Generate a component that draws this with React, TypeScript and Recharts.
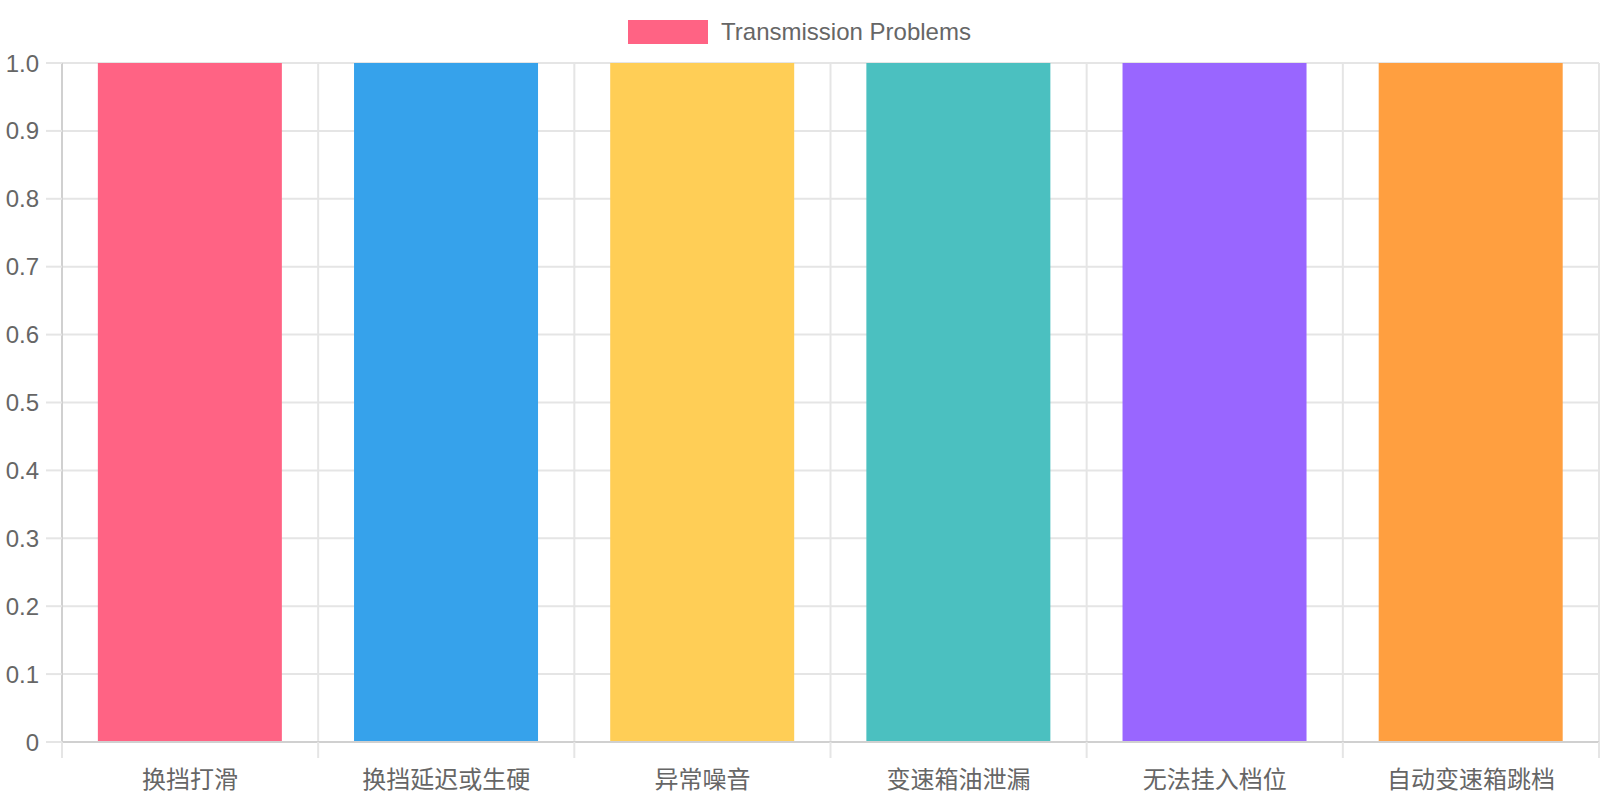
import { Bar, BarChart, CartesianGrid, Cell, Legend, XAxis, YAxis } from "recharts";

const categories = ["换挡打滑", "换挡延迟或生硬", "异常噪音", "变速箱油泄漏", "无法挂入档位", "自动变速箱跳档"];
const problemCounts = [1, 1, 1, 1, 1, 1];
const barColors = ["#FF6384", "#36A2EB", "#FFCE56", "#4BC0C0", "#9966FF", "#FF9F40"];
const yTicks = [0, 0.1, 0.2, 0.3, 0.4, 0.5, 0.6, 0.7, 0.8, 0.9, 1.0];
const seriesName = "Transmission Problems";

const data = categories.map((name, i) => ({ name, value: problemCounts[i] }));

const FONT = '"Liberation Sans", Arial, "Noto Sans CJK SC", sans-serif';
const GRID = "#e5e5e5";
const TEXT = "#666666";
const W = 1600;
const H = 800;
const LEFT = 62;
const RIGHT = 1;
const X_AXIS_H = 58;
const AXIS_Y = H - X_AXIS_H;
const BAND = (W - LEFT - RIGHT) / categories.length;

const LegendBox = () => (
  <div style={{ height: 63, display: "flex", justifyContent: "center", alignItems: "flex-start" }}>
    <div style={{ display: "flex", alignItems: "center", marginTop: 20 }}>
      <span style={{ width: 80, height: 24, background: barColors[0], display: "inline-block" }} />
      <span style={{ marginLeft: 13, fontFamily: FONT, fontSize: 24, color: TEXT, lineHeight: "24px" }}>
        {seriesName}
      </span>
    </div>
  </div>
);

// category labels plus the tick marks that sit on the band edges
const XTick = (props: any) => {
  const { x, payload, index } = props;
  const left = x - BAND / 2;
  return (
    <g>
      <line x1={left} x2={left} y1={AXIS_Y} y2={AXIS_Y + 16} stroke={GRID} strokeWidth={2} />
      {index === categories.length - 1 && (
        <line x1={left + BAND} x2={left + BAND} y1={AXIS_Y} y2={AXIS_Y + 16} stroke={GRID} strokeWidth={2} />
      )}
      <text x={x} y={AXIS_Y + 46} textAnchor="middle" fill={TEXT} fontSize={24} fontFamily={FONT}>
        {payload.value}
      </text>
    </g>
  );
};

export default function App() {
  return (
    <div style={{ position: "absolute", left: 0, top: 0, width: W, height: H, background: "#fff" }}>
      <BarChart
        width={W}
        height={H}
        data={data}
        margin={{ top: 0, right: RIGHT, left: 0, bottom: 0 }}
        barCategoryGap="14%"
      >
        <Legend verticalAlign="top" align="center" content={() => <LegendBox />} />
        <CartesianGrid
          stroke={GRID}
          strokeWidth={2}
          verticalCoordinatesGenerator={({ offset }: any) =>
            categories.map((_, i) => offset.left + i * BAND).concat(offset.left + offset.width)
          }
        />
        <XAxis
          dataKey="name"
          height={X_AXIS_H}
          interval={0}
          axisLine={{ stroke: "#d0d0d0", strokeWidth: 2 }}
          tickLine={false}
          tick={<XTick />}
        />
        <YAxis
          width={LEFT}
          domain={[0, 1]}
          ticks={yTicks}
          interval={0}
          tickFormatter={(v: number) => (v === 0 ? "0" : v.toFixed(1))}
          axisLine={{ stroke: "#d0d0d0", strokeWidth: 2 }}
          tickLine={{ stroke: GRID, strokeWidth: 2 }}
          tickSize={16}
          tickMargin={7}
          tick={{ fill: TEXT, fontSize: 24, fontFamily: FONT }}
        />
        <Bar dataKey="value" name={seriesName} isAnimationActive={false}>
          {data.map((_, i) => (
            <Cell key={i} fill={barColors[i]} />
          ))}
        </Bar>
      </BarChart>
    </div>
  );
}
